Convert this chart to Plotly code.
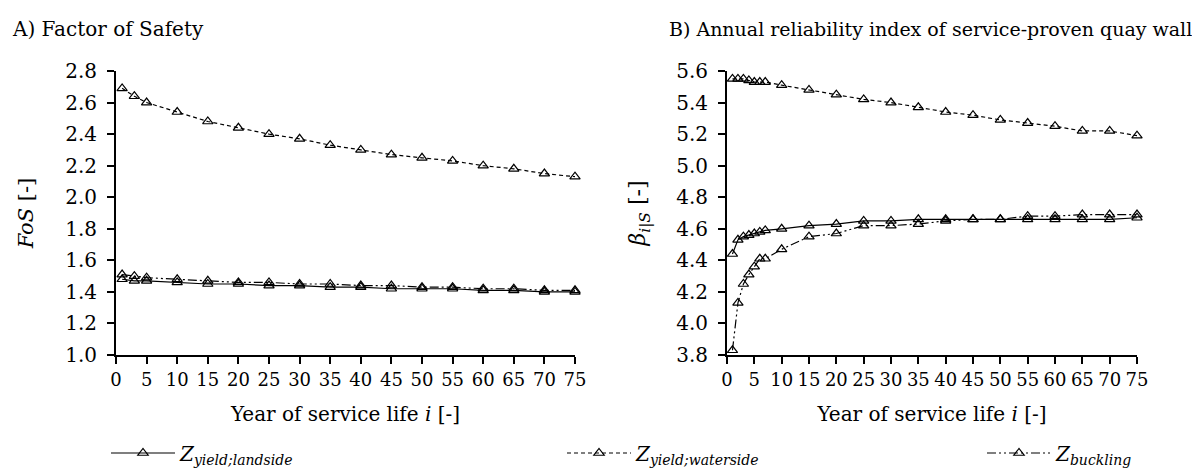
import plotly.graph_objects as go

# ---- data ----
years_a = [1, 3, 5, 10, 15, 20, 25, 30, 35, 40, 45, 50, 55, 60, 65, 70, 75]
fos_landside = [1.48, 1.47, 1.47, 1.46, 1.45, 1.45, 1.44, 1.44, 1.43, 1.43, 1.42, 1.42, 1.42, 1.41, 1.41, 1.40, 1.40]
fos_waterside = [2.69, 2.64, 2.60, 2.54, 2.48, 2.44, 2.40, 2.37, 2.33, 2.30, 2.27, 2.25, 2.23, 2.20, 2.18, 2.15, 2.13]
fos_buckling = [1.51, 1.50, 1.49, 1.48, 1.47, 1.46, 1.46, 1.45, 1.45, 1.44, 1.44, 1.43, 1.43, 1.42, 1.42, 1.41, 1.41]

years_b = [1, 2, 3, 4, 5, 6, 7, 10, 15, 20, 25, 30, 35, 40, 45, 50, 55, 60, 65, 70, 75]
beta_landside = [4.44, 4.53, 4.55, 4.56, 4.57, 4.58, 4.59, 4.60, 4.62, 4.63, 4.65, 4.65, 4.66, 4.66, 4.66, 4.66, 4.66, 4.66, 4.66, 4.66, 4.67]
beta_waterside = [5.55, 5.55, 5.55, 5.54, 5.53, 5.53, 5.53, 5.51, 5.48, 5.45, 5.42, 5.40, 5.37, 5.34, 5.32, 5.29, 5.27, 5.25, 5.22, 5.22, 5.19]
beta_buckling = [3.83, 4.13, 4.25, 4.31, 4.36, 4.41, 4.41, 4.47, 4.55, 4.57, 4.62, 4.62, 4.63, 4.65, 4.66, 4.66, 4.68, 4.68, 4.69, 4.69, 4.69]

names = ["<i>Z</i><sub><i>yield;landside</i></sub>",
         "<i>Z</i><sub><i>yield;waterside</i></sub>",
         "<i>Z</i><sub><i>buckling</i></sub>"]
dashes = ["solid", "4px,3px", "9px,3px,2px,3px,2px,3px"]
legends = ["legend", "legend2", "legend3"]

FONT = "DejaVu Serif"
FS = 20
FS_X = 18

fig = go.Figure()

series_a = [fos_landside, fos_waterside, fos_buckling]
series_b = [beta_landside, beta_waterside, beta_buckling]

for i in range(3):
    fig.add_trace(go.Scatter(
        x=years_a, y=series_a[i], mode="lines+markers", name=names[i],
        line=dict(color="black", width=1.2, dash=dashes[i]),
        marker=dict(symbol="triangle-up-open", size=9, color="black", line=dict(width=1.2)),
        xaxis="x", yaxis="y", legend=legends[i], cliponaxis=False))
for i in range(3):
    fig.add_trace(go.Scatter(
        x=years_b, y=series_b[i], mode="lines+markers", name=names[i],
        line=dict(color="black", width=1.2, dash=dashes[i]),
        marker=dict(symbol="triangle-up-open", size=9, color="black", line=dict(width=1.2)),
        xaxis="x2", yaxis="y2", showlegend=False, cliponaxis=False))

axis_common = dict(showgrid=False, zeroline=False, showline=True, linecolor="black",
                   linewidth=2, ticks="outside", ticklen=7, tickwidth=1.5, tickcolor="black",
                   automargin=False)
xtick = dict(family=FONT, size=FS_X, color="black")
ytick = dict(family=FONT, size=FS, color="black")

fig.update_layout(
    width=1200, height=474,
    paper_bgcolor="white", plot_bgcolor="white",
    margin=dict(l=0, r=0, t=63, b=127),
    font=dict(family=FONT, size=FS, color="black"),
    xaxis=dict(domain=[108/1200, 567/1200], range=[0, 75], dtick=5, tick0=0, tickangle=0,
               tickfont=xtick,
               title=dict(text="Year of service life <i>i</i> [-]", standoff=18,
                          font=dict(family=FONT, size=FS, color="black")), **axis_common),
    yaxis=dict(range=[1.0, 2.8], dtick=0.2, tick0=1.0, tickformat=".1f", ticklabelstandoff=6,
               tickfont=ytick,
               title=dict(text="<i>FoS</i> [-]", standoff=26,
                          font=dict(family=FONT, size=FS + 1, color="black")), **axis_common),
    xaxis2=dict(domain=[719/1200, 1129/1200], range=[0, 75], dtick=5, tick0=0, anchor="y2",
                tickangle=0, tickfont=xtick,
                title=dict(text="Year of service life <i>i</i> [-]", standoff=18,
                           font=dict(family=FONT, size=FS, color="black")), **axis_common),
    yaxis2=dict(range=[3.8, 5.6], dtick=0.2, tick0=3.8, tickformat=".1f", anchor="x2",
                ticklabelstandoff=6, tickfont=ytick,
                title=dict(text="<i>β</i><sub><i>i</i>|<i>S</i></sub> [-]", standoff=24,
                           font=dict(family=FONT, size=FS + 2, color="black")), **axis_common),
)

leg_common = dict(orientation="h", xanchor="left", yanchor="middle", bgcolor="rgba(0,0,0,0)",
                  font=dict(family=FONT, size=FS, color="black"),
                  itemwidth=64)
fig.update_layout(
    legend=dict(x=98/1200, y=-0.345, **leg_common),
    legend2=dict(x=554/1200, y=-0.345, **leg_common),
    legend3=dict(x=974/1200, y=-0.345, **leg_common),
)

fig.add_annotation(text="A) Factor of Safety", xref="paper", yref="paper",
                   x=2/1200, y=1 + 42/284, xanchor="left", yanchor="middle",
                   showarrow=False, font=dict(family=FONT, size=FS, color="black"))
fig.add_annotation(text="B) Annual reliability index of service-proven quay wall", xref="paper", yref="paper",
                   x=1186/1200, y=1 + 42/284, xanchor="right", yanchor="middle",
                   showarrow=False, font=dict(family=FONT, size=19, color="black"))

fig.write_html("out.html")
